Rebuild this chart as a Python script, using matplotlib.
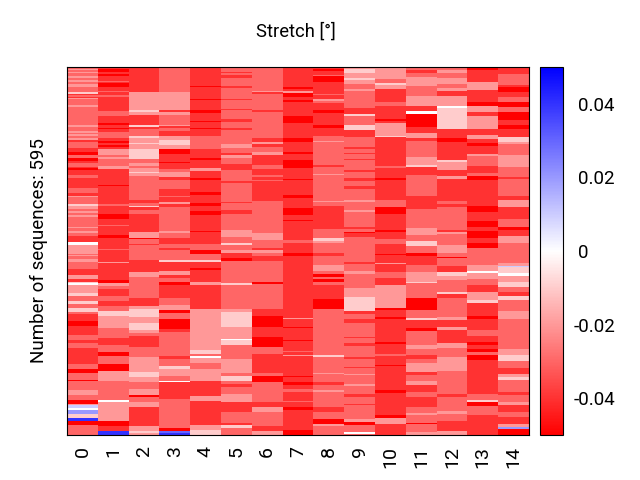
import matplotlib
matplotlib.use('Agg')
import matplotlib.pyplot as plt
import numpy as np

plt.rcParams['font.family'] = ['Roboto', 'DejaVu Sans']
plt.rcParams['axes.unicode_minus'] = False

N_ROWS = 595
N_TOP = 296
column_labels = [str(i) for i in range(15)]

# each column as (value in 0.01 deg, number of sequences)
col0 = [(-3,3),(-2,2),(-3,3),(-2,2),(-3,4),(-2,3),(-3,4),(-2,4),(-3,3),(-2,5),(-3,8),(-1,2),(-4,2),(-3,3),(-4,2),(-2,2),(-3,10),(-2,2),(-3,13),(-2,1),(-3,15),(-2,4),(-3,6),(-2,3),(-3,2),(-2,3),(-3,4),(-2,3),(-4,4),(-3,9),(-4,7),(-5,4),(-3,5),(-5,5),(-4,3),(-3,6),(-4,3),(-5,2),(-4,8),(-3,6),(-4,15),(-3,9),(-4,4),(-2,2),(-3,11),(-1,3),(-2,5),(-3,4),(-2,3),(-3,4),(-2,3),(-3,16),(-2,2),(-3,4),(-2,4),(-3,4),(-4,10),(0,4),(-2,8)]
col0b = [(-2,6),(-3,2),(-2,2),(-3,5),(-2,5),(-3,11),(-4,10),(-2,5),(-4,5),(-1,3),(0,2),(-2,14),(-1,5),(-3,7),(-1,5),(-3,7),(-1,6),(-3,4),(-4,11),(-5,8),(-4,15),(-3,7),(-4,5),(-3,8),(-4,27),(-3,8),(-5,5),(-3,12),(-5,2),(-3,15),(-2,8),(-3,8),(-5,6),(-2,2),(1,4),(0,4),(2,6),(-1,6),(4,6),(-5,6),(-3,5)]
col1 = [(-4,3),(-5,5),(-4,3),(-5,4),(-4,8),(-3,2),(-4,1),(-5,6),(-4,7),(-3,2),(-4,5),(-3,2),(-4,23),(-3,8),(-4,12),(-5,2),(-4,5),(-5,3),(-4,4),(-3,10),(-4,5),(-5,3),(-4,3),(-5,3),(-4,4),(-2,10),(-3,3),(-2,3),(-3,11),(-2,5),(-4,26),(-5,2),(-4,15),(-5,1),(-4,12),(-3,4),(-4,12),(-5,9),(-4,10),(-3,1),(-4,15),(-5,4),(-4,18),(-3,3)]
col1b = [(-4,19),(-2,2),(-4,28),(-5,4),(-2,5),(-3,5),(-4,11),(-3,8),(-4,8),(-3,8),(-1,9),(-2,19),(-3,16),(-4,11),(-3,11),(-5,8),(-3,13),(-5,11),(-2,16),(-3,31),(0,2),(-2,32),(-5,8),(-4,7),(4,4)]
col2 = [(-4,40),(-2,30),(-1,2),(-2,5),(-4,16),(-1,4),(-4,4),(-3,11),(-1,2),(-2,9),(-1,2),(-2,8),(-1,16),(-3,7),(-2,4),(-3,4),(-2,5),(-1,2),(-2,5),(-3,39),(-4,5),(-3,4),(-1,2),(-4,6),(-3,5),(-4,29),(-2,10),(-5,2),(-3,8),(-4,2),(-3,8)]
col2b = [(-3,16),(-4,19),(-2,8),(-3,35),(-4,12),(-2,6),(-1,13),(-2,9),(-1,11),(-2,5),(-3,5),(-4,18),(-3,16),(-2,24),(-1,8),(-2,9),(-3,10),(-2,11),(-5,3),(-3,8),(-2,8),(-4,31),(-2,7),(-1,3),(-2,3)]
col3 = [(-3,40),(-2,29),(-4,3),(-2,6),(-3,15),(-2,3),(-4,3),(-3,4),(-4,9),(-2,6),(-1,8),(-2,6),(-5,9),(-4,13),(-5,2),(-4,9),(-3,4),(-2,9),(-4,5),(-3,14),(-4,11),(-3,2),(-4,9),(-2,2),(-4,5),(-3,39),(-2,4),(-3,7),(-4,10),(-3,6),(-4,4)]
col3b = [(-3,16),(-1,3),(-4,15),(-2,6),(-4,5),(-3,6),(-5,5),(-4,21),(-3,12),(-2,8),(-5,4),(-3,11),(-5,15),(-4,5),(-3,39),(-4,5),(-3,12),(-1,4),(-2,12),(-3,7),(0,2),(-4,28),(-3,47),(-5,4),(3,3),(4,3)]
col4 = [(-4,31),(-5,1),(-4,20),(-5,1),(-4,17),(-5,5),(-4,12),(-5,2),(-4,9),(-5,3),(-4,11),(-3,20),(-4,15),(-5,4),(-4,13),(-2,4),(-4,11),(-5,4),(-4,19),(-5,5),(-4,13),(-5,4),(-4,9),(-5,6),(-4,26),(-5,2),(-4,19),(-3,8)]
col4b = [(-5,6),(-3,10),(-1,4),(-4,9),(-5,4),(-4,19),(-2,5),(-4,39),(-2,66),(-1,6),(-3,3),(0,4),(-2,8),(-3,9),(-2,20),(-4,24),(-2,8),(-4,39),(-2,8),(-1,5)]
col5 = [(-3,8),(-4,2),(-3,3),(-4,4),(-3,14),(-4,3),(-3,18),(-4,2),(-3,14),(-4,2),(-3,14),(-4,5),(-3,9),(-4,4),(-3,23),(-2,6),(-3,8),(-4,4),(-2,4),(-3,10),(-4,9),(-3,19),(-4,3),(-3,30),(-4,2),(-3,12),(-4,6),(-3,26),(-2,11),(-3,10),(-1,3),(-3,5)]
col5b = [(-2,5),(-4,8),(-5,5),(-3,35),(-1,3),(-3,39),(-2,5),(-1,24),(-2,19),(0,3),(-1,8),(-3,22),(-2,23),(-3,5),(-1,7),(-3,5),(-4,5),(-3,12),(-2,13),(-4,16),(-3,17),(-4,4),(-1,5),(-3,5)]
col6 = [(-3,38),(-2,3),(-4,3),(-3,26),(-4,3),(-3,41),(-4,7),(-2,4),(-4,4),(-3,9),(-2,5),(-4,16),(-3,6),(-4,10),(-3,3),(-4,5),(-3,2),(-4,31),(-3,52),(-2,11),(-3,13),(-4,4)]
col6b = [(-2,5),(-3,5),(-4,8),(-3,33),(-5,4),(-3,40),(-4,11),(-5,19),(-4,15),(-5,16),(-3,12),(-4,30),(-3,6),(-5,10),(-3,32),(-4,7),(-2,9),(-3,22),(-4,8),(-2,5)]
col7 = [(-4,9),(-5,1),(-4,22),(-5,4),(-4,3),(-2,3),(-5,3),(-5,4),(-4,4),(-5,3),(-4,24),(-5,7),(-5,3),(-4,25),(-5,7),(-4,15),(-5,3),(-4,11),(-5,12),(-4,9),(-4,9),(-5,2),(-4,24),(-5,4),(-4,17),(-5,12),(-4,7),(-5,2),(-4,31),(-3,5),(-4,14)]
col7b = [(-4,5),(-5,5),(-4,20),(-5,1),(-4,38),(-3,1),(-4,40),(-2,1),(-4,14),(-5,1),(-4,19),(-5,2),(-4,16),(-3,2),(-4,4),(-2,3),(-4,31),(-5,2),(-4,8),(-5,5),(-4,6),(-3,6),(-4,14),(-3,2),(-4,7),(-5,5),(-4,33),(-5,5)]
col8 = [(-4,3),(-5,4),(-4,6),(-3,2),(-5,10),(-4,18),(-3,3),(-4,6),(-2,3),(-3,3),(-4,11),(-5,5),(-4,19),(-5,5),(-4,14),(-3,8),(-2,2),(-3,36),(-4,4),(-3,11),(-2,2),(-3,41),(-2,2),(-3,6),(-4,38),(-3,15),(-1,4),(-2,4),(-3,9)]
col8b = [(-3,5),(-4,4),(-3,15),(-2,10),(-3,5),(-5,4),(-3,4),(-5,5),(-3,5),(-4,22),(-5,17),(-3,73),(-1,4),(-3,25),(-2,2),(-3,13),(-4,5),(-3,8),(-2,4),(-3,23),(-4,9),(-3,11),(-5,8),(-2,4),(-3,12)]
col9 = [(-2,3),(-1,7),(-2,8),(-1,3),(-2,6),(-3,9),(-2,3),(-3,27),(-4,10),(-1,4),(-3,14),(-1,8),(-4,11),(-3,16),(-4,4),(-3,6),(-4,2),(-3,7),(-4,3),(-3,16),(-4,2),(-3,10),(-4,5),(-3,8),(-4,5),(-3,18),(-2,3),(-3,14),(-2,2),(-3,24),(-4,4),(-3,4),(-5,3),(-4,6),(-3,20)]
col9b = [(-3,19),(-4,3),(-3,12),(-2,4),(-3,24),(-2,14),(-1,22),(-4,5),(-3,8),(-4,7),(-3,22),(-4,2),(-3,9),(-4,4),(-3,18),(-4,3),(-3,13),(-4,1),(-3,10),(-2,2),(-3,15),(-2,3),(-3,13),(-4,5),(-3,11),(-4,1),(-3,23),(-2,5),(-5,5),(-3,11),(0,3),(-3,3)]
col10 = [(-2,19),(-3,7),(-1,3),(-2,6),(-4,22),(-3,6),(-4,21),(-5,3),(-4,4),(-2,20),(-1,2),(-4,47),(-3,4),(-4,15),(-5,4),(-4,32),(-3,11),(-5,12),(-4,26),(-5,3),(-4,11),(-3,8),(-4,11)]
col10b = [(-4,6),(-5,2),(-4,13),(-2,2),(-4,13),(-3,9),(-4,12),(-2,37),(-5,3),(-4,12),(-5,2),(-4,38),(-5,3),(-4,16),(-3,3),(-4,15),(-5,2),(-4,39),(-5,4),(-4,35),(-5,6),(-2,10),(-4,15)]
col11 = [(-3,5),(-4,5),(-3,6),(-2,14),(-3,17),(-2,16),(-4,8),(0,5),(-5,21),(-4,10),(-2,8),(-4,4),(-3,27),(-2,12),(-1,3),(-4,14),(-3,34),(-4,21),(-3,30),(-2,11),(-3,10),(-1,8),(-3,4)]
col11b = [(-3,5),(-5,4),(-4,15),(-3,11),(-2,16),(-1,3),(-3,24),(-5,19),(-3,13),(-1,3),(-4,13),(-5,5),(-3,22),(-2,7),(-3,9),(-4,7),(-3,6),(-2,15),(-4,5),(-3,9),(-2,7),(-4,11),(-3,9),(-4,15),(-3,10),(-2,4),(-3,12),(-5,3),(-3,12),(-2,4)]
col12 = [(-3,5),(-2,4),(-3,9),(-2,9),(-3,7),(-2,5),(-4,8),(-2,16),(0,4),(-1,33),(-4,14),(-5,7),(-4,29),(-1,4),(-2,12),(-4,10),(-2,5),(-4,35),(-3,5),(-4,5),(-3,38),(-4,3),(-2,3),(-3,18),(-2,8)]
col12b = [(-2,5),(-3,7),(-5,1),(-3,12),(-4,11),(-1,6),(-2,6),(-3,20),(-1,3),(-4,7),(-3,30),(-2,5),(-4,11),(-2,5),(-4,22),(-2,7),(-3,15),(-2,23),(-3,36),(-4,5),(-3,24),(-2,4),(-3,12),(-4,15),(-2,4)]
col13 = [(-5,5),(-4,20),(-2,12),(-4,11),(-4,8),(-5,7),(-2,9),(-4,7),(-2,21),(-4,10),(-2,6),(-4,7),(-5,5),(-4,13),(-2,3),(-3,16),(-4,11),(-3,6),(-5,5),(-4,42),(-5,10),(-4,15),(-5,9),(-4,7),(-5,11),(-4,9),(-5,7),(-3,3)]
col13b = [(-3,24),(-2,10),(0,3),(-2,9),(-3,11),(-4,11),(-2,13),(-1,4),(-4,22),(-5,5),(-4,17),(-3,10),(-4,10),(-5,5),(-4,6),(-5,4),(-3,6),(-5,8),(-4,54),(-3,11),(-1,3),(-5,6),(-3,15),(-4,8)]
col14 = [(-4,11),(-3,18),(-4,4),(-5,7),(-4,8),(-3,9),(-5,8),(-3,8),(-5,12),(-4,8),(-5,8),(-4,12),(-1,8),(-2,4),(-3,18),(-2,19),(-3,16),(-4,3),(-3,28),(-4,6),(-2,11),(-4,19),(-3,13),(-5,5),(-4,11),(-2,11),(-3,11)]
col14b = [(-3,21),(-2,4),(1,2),(-1,10),(0,5),(-2,9),(-1,8),(-3,8),(-4,8),(-1,5),(-3,19),(-2,13),(-3,48),(-2,10),(-1,9),(-3,11),(-4,11),(-2,5),(-1,4),(-3,20),(-4,5),(-3,11),(-2,5),(-4,11),(-3,8),(-4,11),(-2,5),(2,4),(-5,6)]

tops = [col0, col1, col2, col3, col4, col5, col6, col7, col8, col9, col10, col11, col12, col13, col14]
bottoms = [col0b, col1b, col2b, col3b, col4b, col5b, col6b, col7b, col8b, col9b, col10b, col11b, col12b, col13b, col14b]


def expand(runs, n):
    v = np.repeat([r[0] for r in runs], [r[1] for r in runs])
    if len(v) < n:
        v = np.append(v, [v[-1]] * (n - len(v)))
    return v[:n]


grid = np.zeros((N_ROWS, 15))
for i in range(15):
    grid[:N_TOP, i] = expand(tops[i], N_TOP)
    grid[N_TOP:, i] = expand(bottoms[i], N_ROWS - N_TOP)
grid = grid / 100.0

fig = plt.figure(figsize=(6.4, 4.8), dpi=100)
ax = fig.add_axes([67 / 640, 1 - 435 / 480, 462 / 640, 368 / 480])
im = ax.pcolormesh(np.arange(16), np.arange(N_ROWS + 1), grid, cmap='bwr_r', vmin=-0.05, vmax=0.05)
ax.invert_yaxis()
ax.set_yticks([])
ax.set_xticks(np.arange(15) + 0.5)
ax.set_xticklabels(column_labels, rotation=90, fontsize=14)
ax.tick_params(axis='x', length=0, pad=8)
ax.set_ylabel('Number of sequences: 595', fontsize=13.5, labelpad=14)
fig.text(296 / 640, 1 - 32 / 480, 'Stretch [°]', fontsize=13.2, ha='center', va='center')

cax = fig.add_axes([540 / 640, 1 - 435 / 480, 23 / 640, 368 / 480])
cb = fig.colorbar(im, cax=cax)
cb.set_ticks([-0.04, -0.02, 0, 0.02, 0.04])
cb.set_ticklabels(['-0.04', '-0.02', '0', '0.02', '0.04'])
cb.ax.tick_params(length=0, labelsize=13.5)
for t, p in zip(cb.ax.yaxis.get_major_ticks(), [8, 8, 11, 11, 11]):
    t.set_pad(p)

fig.savefig('out.png', dpi=100)
